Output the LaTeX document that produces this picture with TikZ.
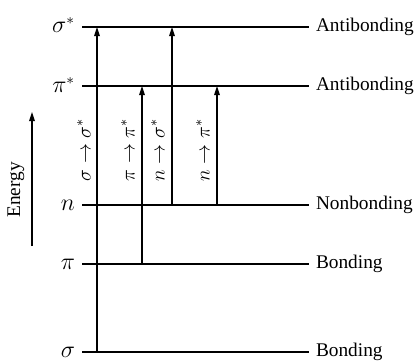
\documentclass[tikz,border=0pt]{standalone}
\usepackage{fontspec}
\setmainfont{Liberation Serif}
\usetikzlibrary{arrows.meta}
\begin{document}
\begin{tikzpicture}[x=0.6pt,y=-0.6pt,
  level/.style={line width=0.8pt},
  trans/.style={line width=0.75pt,-{Triangle[length=5.5pt,width=3.4pt]}},
  lab/.style={font=\fontsize{11.6}{14}\selectfont,inner sep=1pt},
  rlab/.style={lab,anchor=west},
  llab/.style={font=\fontsize{13.5}{16}\selectfont,inner sep=1pt,anchor=east},
  vlab/.style={lab,rotate=90}]
\useasboundingbox (0,0) rectangle (419,361);
% levels
\foreach \n/\y in {ss/27,ps/86,nn/205,pp/264,sg/352}{
  \coordinate (\n L) at (82,\y);
  \coordinate (\n R) at (309,\y);
  \draw[level] (\n L) -- (\n R);
}
\node[llab] (lss) at (77,25) {$\sigma^*$};
\node[llab] (lps) at (77,85) {$\pi^*$};
\node[llab] (lnn) at (77,205) {$n$};
\node[llab] (lpp) at (77,264) {$\pi$};
\node[llab] (lsg) at (77,352) {$\sigma$};
\node[rlab] (rss) at (314,27) {Antibonding};
\node[rlab] (rps) at (314,86) {Antibonding};
\node[rlab] (rnn) at (314,205) {Nonbonding};
\node[rlab] (rpp) at (314,264) {Bonding};
\node[rlab] (rsg) at (314,352) {Bonding};
% transitions
\coordinate (a1) at (97,352); \coordinate (b1) at (97,27);
\coordinate (a2) at (142,264); \coordinate (b2) at (142,86);
\coordinate (a3) at (172,205); \coordinate (b3) at (172,27);
\coordinate (a4) at (217,205); \coordinate (b4) at (217,86);
\draw[trans] (a1) -- (b1);
\draw[trans] (a2) -- (b2);
\draw[trans] (a3) -- (b3);
\draw[trans] (a4) -- (b4);
\node[vlab] (t1) at (84,150) {$\sigma\rightarrow\sigma^*$};
\node[vlab] (t2) at (128,150) {$\pi\rightarrow\pi^*$};
\node[vlab] (t3) at (158,150) {$n\rightarrow\sigma^*$};
\node[vlab] (t4) at (203,150) {$n\rightarrow\pi^*$};
% energy axis
\coordinate (e0) at (32,246); \coordinate (e1) at (32,112);
\draw[trans] (e0) -- (e1);
\node[vlab] (en) at (16,190) {Energy};
\end{tikzpicture}
\end{document}
